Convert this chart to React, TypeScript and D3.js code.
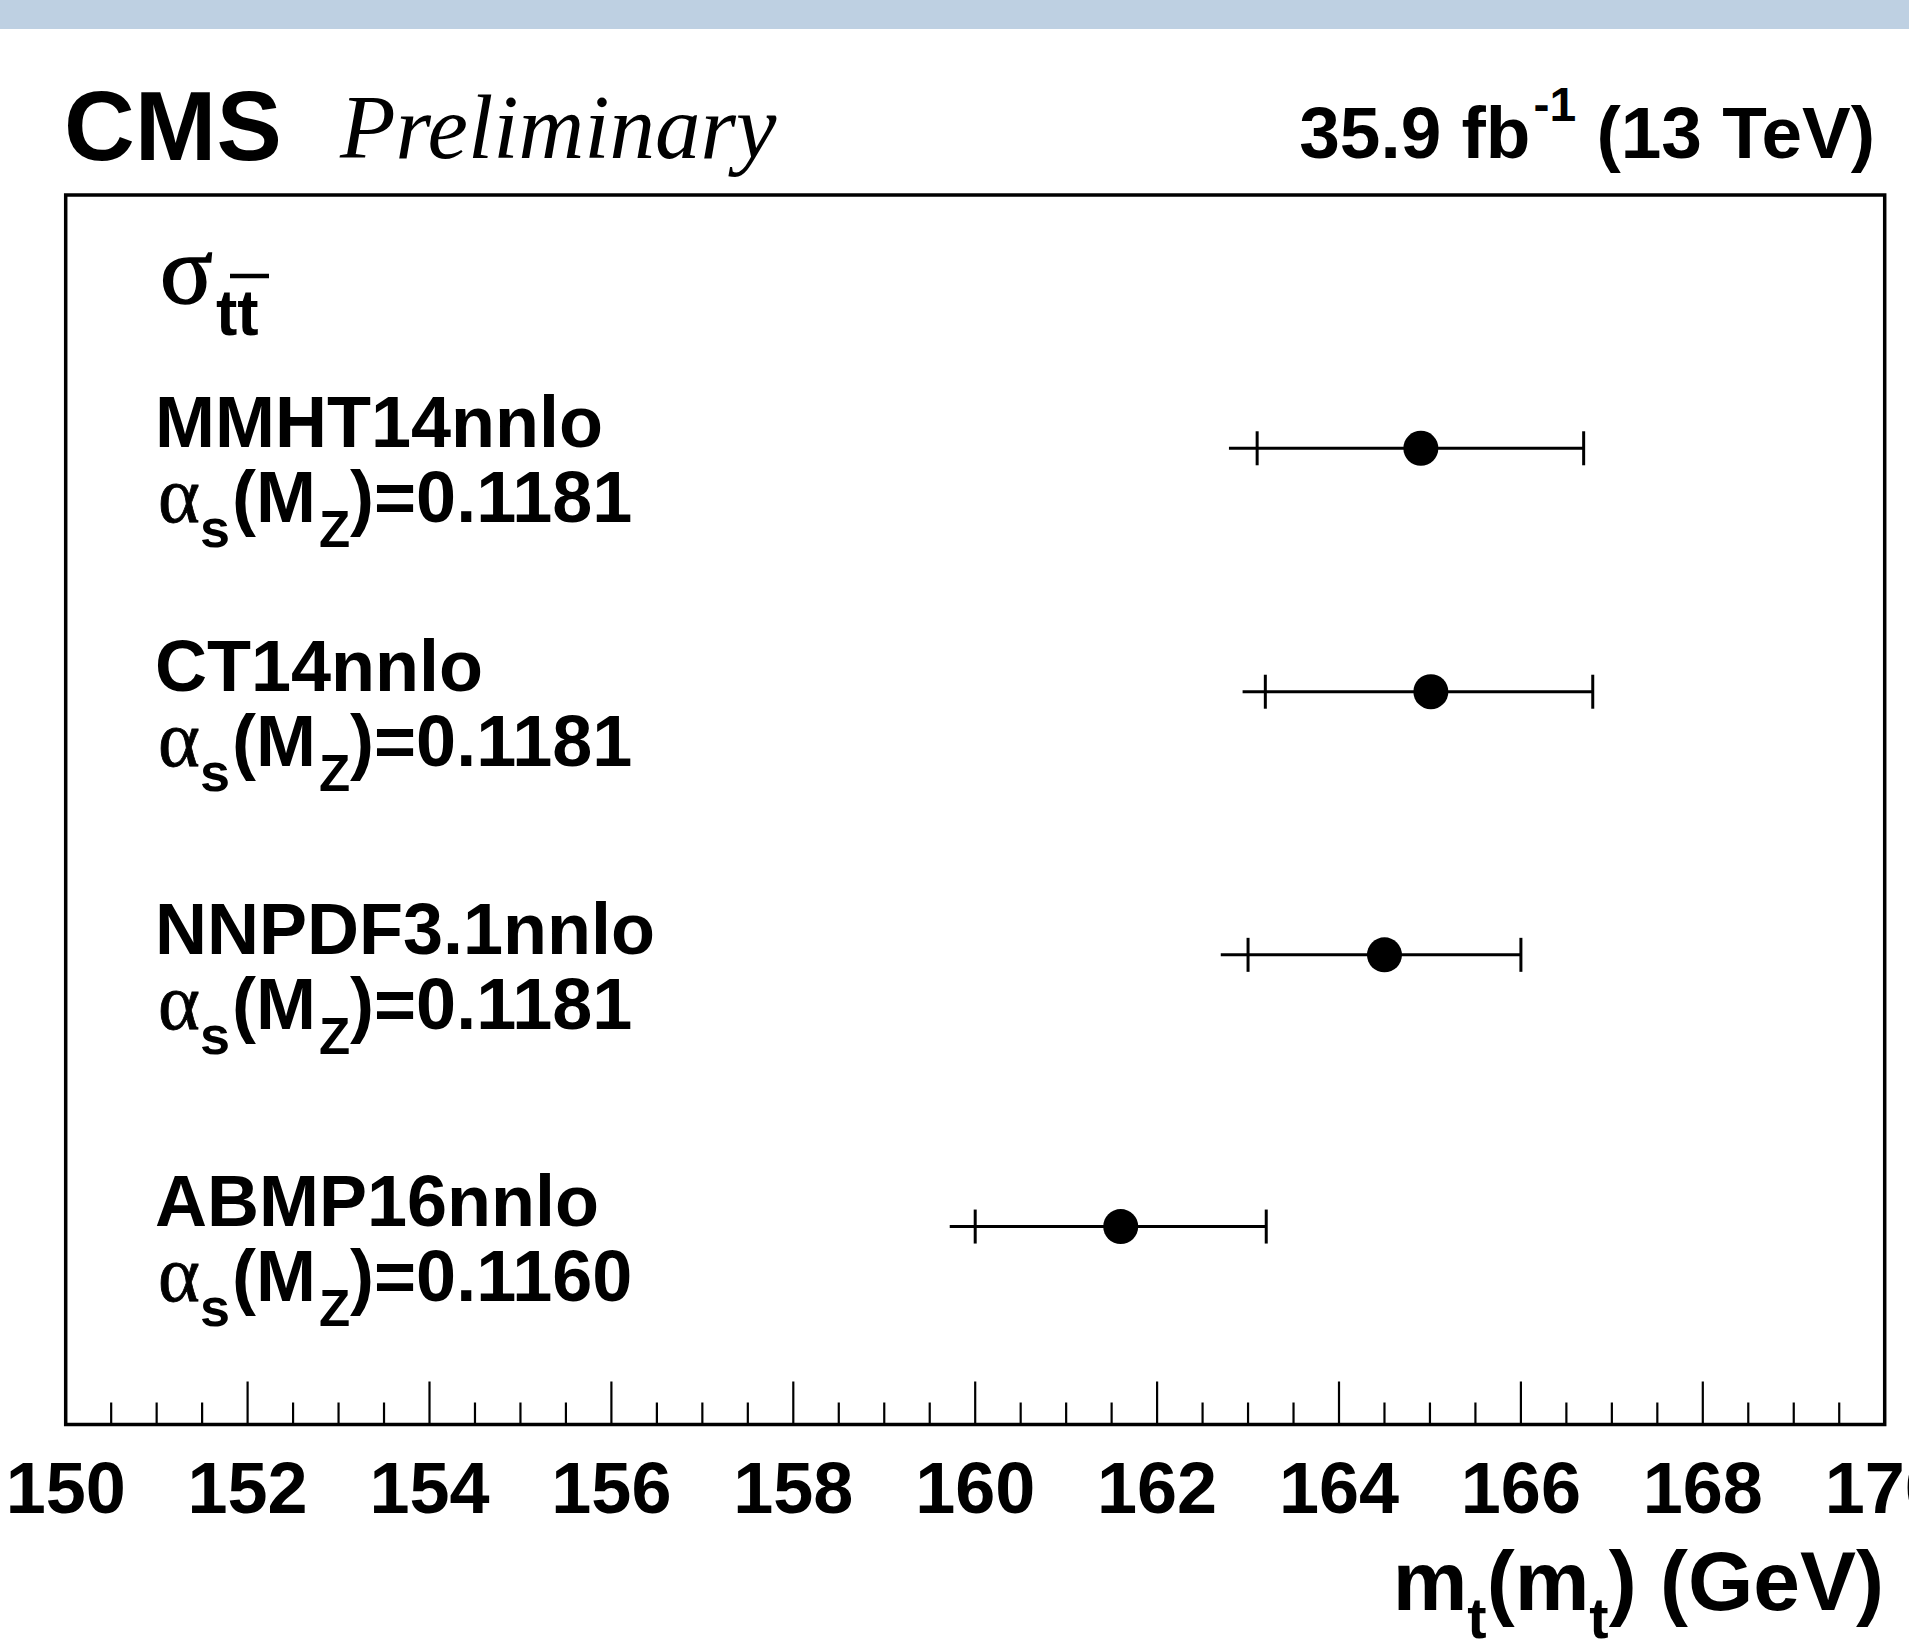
import React from "react";
import * as d3 from "d3";

// PDF sets and their results
const pdfNames = ["MMHT14nnlo", "CT14nnlo", "NNPDF3.1nnlo", "ABMP16nnlo"];
const alphaValues = ["0.1181", "0.1181", "0.1181", "0.1160"];
const centralMass = [164.9, 165.01, 164.5, 161.6];
const totalLow = [162.79, 162.94, 162.7, 159.72];
const innerLow = [163.1, 163.19, 163.0, 160.0];
const upper = [166.69, 166.79, 166.0, 163.2];
const rowPos = [3.97, 2.98, 1.91, 0.805];

const majorTicks = d3.range(150, 170.001, 2);
const minorTicks = d3.range(150, 170.001, 0.5).filter((v) => Math.abs(v / 2 - Math.round(v / 2)) > 1e-6);

const W = 1909;
const H = 1645;
const frame = { left: 65.7, right: 1884.7, top: 195, bottom: 1424.5 };

const SANS = "'Liberation Sans', Arial, Helvetica, sans-serif";
const SERIF = "'Liberation Serif', 'Times New Roman', serif";

export default function App() {
  const x = d3.scaleLinear().domain([150, 170]).range([frame.left, frame.right]);
  const y = d3.scaleLinear().domain([0, 5]).range([frame.bottom, frame.top]);

  return (
    <svg
      width={W}
      height={H}
      style={{ position: "absolute", left: 0, top: 0, display: "block", background: "#fff" }}
    >
      {/* top band */}
      <rect x={0} y={0} width={W} height={29} fill="#bed0e2" />

      {/* header */}
      <text x={64} y={160} fontFamily={SANS} fontWeight="bold" fontSize={98}>
        CMS
      </text>
      <text x={340} y={158} fontFamily={SERIF} fontStyle="italic" fontSize={91}>
        Preliminary
      </text>
      <text x={1875} y={158} textAnchor="end" fontFamily={SANS} fontWeight="bold" fontSize={73}>
        35.9 fb
        <tspan fontSize={48} dy={-37} dx={3}>-1</tspan>
        <tspan dy={37}> (13 TeV)</tspan>
      </text>

      {/* frame */}
      <rect
        x={frame.left}
        y={frame.top}
        width={frame.right - frame.left}
        height={frame.bottom - frame.top}
        fill="none"
        stroke="#000"
        strokeWidth={3.5}
      />

      {/* axis ticks */}
      {majorTicks.map((t) => (
        <line key={"M" + t} x1={x(t)} x2={x(t)} y1={frame.bottom} y2={frame.bottom - 43} stroke="#000" strokeWidth={2.2} />
      ))}
      {minorTicks.map((t) => (
        <line key={"m" + t} x1={x(t)} x2={x(t)} y1={frame.bottom} y2={frame.bottom - 22} stroke="#000" strokeWidth={2.2} />
      ))}
      {majorTicks.map((t) => (
        <text key={"l" + t} x={x(t)} y={1513} textAnchor="middle" fontFamily={SANS} fontWeight="bold" fontSize={72}>
          {t}
        </text>
      ))}

      {/* axis title */}
      <text x={1884} y={1610} textAnchor="end" fontFamily={SANS} fontWeight="bold" fontSize={84}>
        m
        <tspan fontSize={58} dy={28}>t</tspan>
        <tspan dy={-28}>(m</tspan>
        <tspan fontSize={58} dy={28}>t</tspan>
        <tspan dy={-28}>) (GeV)</tspan>
      </text>

      {/* sigma_ttbar */}
      <text x={160} y={303} fontFamily={SERIF} fontSize={98} stroke="#000" strokeWidth={1.6}>
        σ
      </text>
      <text x={216} y={335} fontFamily={SANS} fontWeight="bold" fontSize={64}>
        tt
      </text>
      <line x1={230} x2={269} y1={276} y2={276} stroke="#000" strokeWidth={4.5} />

      {/* rows */}
      {pdfNames.map((name, i) => {
        const cy = y(rowPos[i]);
        return (
          <g key={name}>
            <text x={155} y={cy - 1} fontFamily={SANS} fontWeight="bold" fontSize={72}>
              {name}
            </text>
            <text x={158} y={cy + 74} fontFamily={SANS} fontWeight="bold" fontSize={72}>
              <tspan fontFamily={SERIF} fontWeight="normal" fontSize={80} stroke="#000" strokeWidth={0.8}>α</tspan>
              <tspan fontSize={54} dy={25}>s</tspan>
              <tspan dy={-25} dx={2}>(M</tspan>
              <tspan fontSize={51} dy={25} dx={3}>Z</tspan>
              <tspan dy={-25}>)={alphaValues[i]}</tspan>
            </text>
            <line x1={x(totalLow[i])} x2={x(upper[i])} y1={cy} y2={cy} stroke="#000" strokeWidth={3} />
            <line x1={x(innerLow[i])} x2={x(innerLow[i])} y1={cy - 17} y2={cy + 17} stroke="#000" strokeWidth={3} />
            <line x1={x(upper[i])} x2={x(upper[i])} y1={cy - 17} y2={cy + 17} stroke="#000" strokeWidth={3} />
            <circle cx={x(centralMass[i])} cy={cy} r={17.5} fill="#000" />
          </g>
        );
      })}
    </svg>
  );
}
